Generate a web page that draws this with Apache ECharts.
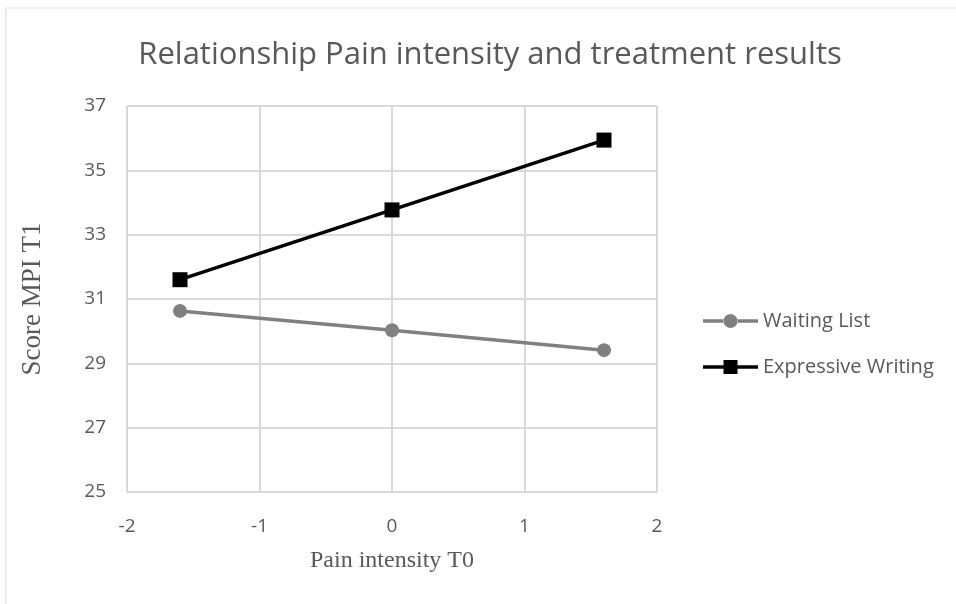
<!DOCTYPE html>
<html>
<head>
<meta charset="utf-8">
<script src="https://cdn.jsdelivr.net/npm/echarts@6/dist/echarts.min.js"></script>
<style>
  html, body { margin: 0; padding: 0; background: #fff; }
  #chart { width: 956px; height: 604px; }
</style>
</head>
<body>
<div id="chart"></div>
<script>
// pain intensity T0 positions (-1 SD, mean, +1 SD)
const painLevels = [-1.6, 0, 1.6]
const waitingList = [30.63, 30.03, 29.41]
const expressiveWriting = [31.6, 33.77, 35.94]
const seriesNames = ['Waiting List', 'Expressive Writing']
const seriesColors = ['#808080', '#000000']

// legend icons: thick line with the marker in the middle (55 x 14 box)
const legendIcons = [
    'path://M0,5.25 L21,5.25 L21,8.75 L0,8.75 Z M34,5.25 L55,5.25 L55,8.75 L34,8.75 Z ' +
        'M20.5,7 A7,7 0 1,0 34.5,7 A7,7 0 1,0 20.5,7 Z',
    'path://M0,5.25 L20.5,5.25 L20.5,8.75 L0,8.75 Z M34.5,5.25 L55,5.25 L55,8.75 L34.5,8.75 Z ' +
        'M20.5,0 L34.5,0 L34.5,14 L20.5,14 Z'
]

function pairs(xs, ys) {
    return xs.map((x, i) => [x, ys[i]])
}

let chart = echarts.init(document.getElementById('chart'))
let textColor = '#595959'
let gridColor = '#d9d9d9'

let option = {
    animation: false,
    title: {
        text: 'Relationship Pain intensity and treatment results',
        left: 485,
        textAlign: 'center',
        top: 35,
        textStyle: {
            fontFamily: 'Open Sans',
            fontWeight: 'normal',
            fontSize: 31,
            color: textColor
        }
    },
    legend: {
        orient: 'vertical',
        left: 698,
        top: 306,
        padding: 5,
        itemWidth: 55,
        itemHeight: 14,
        itemGap: 26,
        itemStyle: { borderWidth: 0 },
        textStyle: {
            fontFamily: 'Open Sans',
            fontSize: 20,
            color: textColor
        },
        data: seriesNames.map((name, i) => ({
            name: name,
            icon: legendIcons[i],
            itemStyle: { color: seriesColors[i], borderWidth: 0 }
        }))
    },
    graphic: [{
        type: 'polyline',
        shape: { points: [[6, 604], [6, 8], [956, 8]] },
        style: { stroke: gridColor, lineWidth: 1, fill: null }
    }],
    grid: {
        left: 127,
        right: 299,
        top: 106,
        bottom: 112
    },
    xAxis: {
        type: 'value',
        min: -2,
        max: 2,
        interval: 1,
        name: 'Pain intensity T0',
        nameLocation: 'middle',
        nameGap: 57,
        nameTextStyle: {
            fontFamily: 'Liberation Serif',
            fontSize: 24,
            color: textColor
        },
        axisLine: { show: true, lineStyle: { color: gridColor, width: 2 } },
        axisTick: { show: false },
        axisLabel: {
            fontFamily: 'Open Sans',
            fontSize: 19,
            color: textColor,
            margin: 25
        },
        splitLine: { show: true, lineStyle: { color: gridColor, width: 2 } }
    },
    yAxis: {
        type: 'value',
        min: 25,
        max: 37,
        interval: 2,
        name: 'Score MPI T1',
        nameLocation: 'middle',
        nameGap: 81,
        nameTextStyle: {
            fontFamily: 'Liberation Serif',
            fontSize: 27,
            color: textColor
        },
        axisLine: { show: true, lineStyle: { color: gridColor, width: 2 } },
        axisTick: { show: false },
        axisLabel: {
            fontFamily: 'Open Sans',
            fontSize: 19,
            color: textColor,
            margin: 21
        },
        splitLine: { show: true, lineStyle: { color: gridColor, width: 2 } }
    },
    series: [
        {
            name: seriesNames[0],
            type: 'line',
            data: pairs(painLevels, waitingList),
            symbol: 'circle',
            symbolSize: 14,
            color: seriesColors[0],
            lineStyle: { width: 3.5, color: seriesColors[0] },
            itemStyle: { color: seriesColors[0] }
        },
        {
            name: seriesNames[1],
            type: 'line',
            data: pairs(painLevels, expressiveWriting),
            symbol: 'rect',
            symbolSize: 15,
            color: seriesColors[1],
            lineStyle: { width: 3.5, color: seriesColors[1] },
            itemStyle: { color: seriesColors[1] }
        }
    ]
}
chart.setOption(option)
</script>
</body>
</html>
